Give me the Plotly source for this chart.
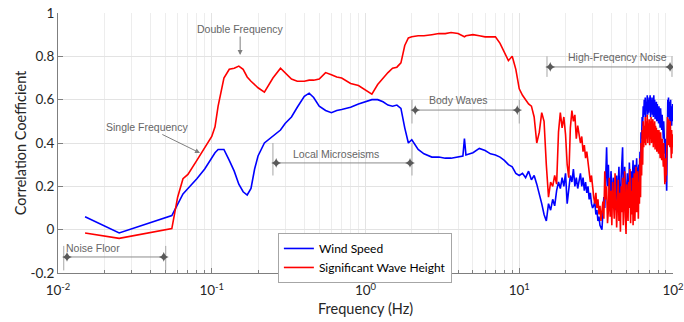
import math
import plotly.graph_objects as go

# ---------------- data ----------------
freq = [0.015, 0.025, 0.055, 0.06, 0.065, 0.07, 0.08, 0.09,
        0.1, 0.105, 0.11, 0.12, 0.13, 0.14, 0.15, 0.16, 0.17, 0.18, 0.19,
        0.2, 0.22, 0.25, 0.28, 0.3, 0.33, 0.36,
        0.4, 0.43, 0.46, 0.5, 0.55, 0.6, 0.65, 0.7, 0.8, 0.9,
        1.0, 1.1, 1.2, 1.3, 1.4, 1.5, 1.6, 1.7, 1.8, 1.9,
        2.0, 2.2, 2.4, 2.7, 3.0, 3.3, 3.6, 4.0, 4.3, 4.4, 4.5,
        5.0, 5.5, 6.0, 6.5, 7.0, 7.5, 8.0, 8.5, 9.0, 9.5, 10.0,
        10.5, 11, 11.5, 12, 12.5, 13, 13.5, 14, 14.5, 15, 15.5, 16, 16.5, 17, 17.5,
        18, 18.5, 19, 19.5, 20, 20.5, 21, 21.5, 22, 22.5, 23, 23.5, 24, 24.5, 25,
        25.5, 26, 26.5, 27, 27.5, 28, 28.5, 29, 29.5, 30,
        30.5, 31, 31.5, 32, 32.5, 33, 33.5, 34, 34.5, 35,
        35.5, 36, 36.5, 37, 37.5, 38, 38.5, 39, 39.5, 40,
        40.5, 41, 41.5, 42, 42.5, 43, 43.5, 44, 44.5, 45,
        45.5, 46, 46.5, 47, 47.5, 48, 48.5, 49, 49.5, 50,
        50.5, 51, 51.5, 52, 52.5, 53, 53.5, 54, 54.5, 55,
        55.5, 56, 56.5, 57, 57.5, 58, 58.5, 59, 59.5, 60,
        60.5, 61, 61.5, 62, 62.5, 63, 63.5, 64, 64.5, 65,
        65.5, 66, 66.5, 67, 67.5, 68, 68.5, 69, 69.5, 70,
        70.5, 71, 71.5, 72, 72.5, 73, 73.5, 74, 74.5, 75,
        75.5, 76, 76.5, 77, 77.5, 78, 78.5, 79, 79.5, 80,
        80.5, 81, 81.5, 82, 82.5, 83, 83.5, 84, 84.5, 85,
        85.5, 86, 86.5, 87, 87.5, 88, 88.5, 89, 89.5, 90,
        90.5, 91, 91.5, 92, 92.5, 93, 93.5, 94, 94.5, 95,
        95.5, 96, 96.5, 97, 97.5, 98, 98.5, 99, 99.5, 100]

wind_speed = [0.06, -0.015, 0.065, 0.12, 0.165, 0.19, 0.235, 0.28,
              0.33, 0.355, 0.37, 0.37, 0.32, 0.27, 0.21, 0.175, 0.16, 0.19, 0.28,
              0.34, 0.40, 0.43, 0.46, 0.49, 0.52, 0.565,
              0.615, 0.63, 0.61, 0.57, 0.55, 0.54, 0.55, 0.555, 0.565, 0.58,
              0.59, 0.60, 0.60, 0.59, 0.575, 0.57, 0.575, 0.56, 0.47, 0.40,
              0.415, 0.37, 0.35, 0.335, 0.335, 0.33, 0.33, 0.335, 0.34, 0.42, 0.345,
              0.355, 0.375, 0.365, 0.35, 0.345, 0.335, 0.32, 0.30, 0.29, 0.26, 0.25,
              0.26, 0.24, 0.27, 0.23, 0.25, 0.21, 0.17, 0.12, 0.07, 0.04, 0.12, 0.09, 0.14, 0.11, 0.18,
              0.22, 0.19, 0.24, 0.20, 0.26, 0.12, 0.18, 0.25, 0.22, 0.28, 0.20, 0.24, 0.19, 0.23, 0.26,
              0.20, 0.24, 0.18, 0.22, 0.17, 0.20, 0.14, 0.17, 0.12, 0.10,
              0.11, 0.13, 0.07, 0.09, 0.04, 0.06, 0.02, 0.01, 0.00, 0.08,
              0.15, 0.10, 0.22, 0.38, 0.20, 0.30, 0.16, 0.12, 0.27, 0.20,
              0.14, 0.24, 0.19, 0.09, 0.22, 0.25, 0.11, 0.20, 0.29, 0.15,
              0.10, 0.24, 0.30, 0.38, 0.16, 0.12, 0.29, 0.22, 0.07, 0.18,
              0.26, 0.13, 0.10, 0.31, 0.23, 0.15, 0.27, 0.09, 0.24, 0.32,
              0.07, 0.20, 0.30, 0.13, 0.26, 0.33, 0.18, 0.10, 0.28, 0.30,
              0.25, 0.36, 0.30, 0.45, 0.42, 0.52, 0.48, 0.57, 0.52, 0.60,
              0.53, 0.61, 0.52, 0.59, 0.55, 0.62, 0.53, 0.60, 0.54, 0.61,
              0.55, 0.62, 0.52, 0.59, 0.56, 0.61, 0.53, 0.60, 0.52, 0.62,
              0.54, 0.60, 0.51, 0.58, 0.53, 0.59, 0.50, 0.58, 0.52, 0.57,
              0.49, 0.57, 0.51, 0.55, 0.47, 0.56, 0.49, 0.54, 0.46, 0.53,
              0.45, 0.52, 0.42, 0.50, 0.40, 0.47, 0.35, 0.42, 0.30, 0.38,
              0.20, 0.18, 0.35, 0.55, 0.60, 0.53, 0.61, 0.52, 0.59, 0.50,
              0.58, 0.51, 0.60, 0.49, 0.57, 0.48, 0.55, 0.50, 0.58, 0.52]

wave_height = [-0.015, -0.04, 0.005, 0.15, 0.235, 0.255, 0.32, 0.38,
               0.43, 0.475, 0.57, 0.70, 0.74, 0.745, 0.755, 0.74, 0.705, 0.685, 0.67,
               0.655, 0.635, 0.70, 0.745, 0.725, 0.695, 0.685,
               0.685, 0.69, 0.69, 0.695, 0.725, 0.715, 0.705, 0.70, 0.675, 0.665,
               0.645, 0.625, 0.67, 0.70, 0.725, 0.745, 0.75, 0.77, 0.85, 0.885,
               0.89, 0.895, 0.895, 0.90, 0.905, 0.905, 0.91, 0.905, 0.895, 0.89, 0.895,
               0.90, 0.895, 0.89, 0.89, 0.89, 0.86, 0.82, 0.78, 0.80, 0.74, 0.65,
               0.62, 0.60, 0.58, 0.57, 0.52, 0.40, 0.45, 0.54, 0.50, 0.30, 0.15, 0.22, 0.20, 0.25, 0.21,
               0.45, 0.54, 0.47, 0.52, 0.44, 0.30, 0.24, 0.47, 0.55, 0.50, 0.53, 0.42, 0.48, 0.44, 0.40,
               0.43, 0.36, 0.39, 0.33, 0.36, 0.30, 0.26, 0.22, 0.25, 0.18,
               0.15, 0.12, 0.17, 0.10, 0.14, 0.07, 0.11, 0.04, 0.09, 0.13,
               0.05, 0.27, 0.14, 0.20, 0.03, 0.09, 0.24, 0.06, 0.18, 0.02,
               0.22, 0.10, 0.05, 0.26, 0.16, 0.01, 0.12, 0.23, 0.04, 0.17,
               -0.01, 0.20, 0.08, 0.24, 0.02, 0.13, 0.27, 0.06, -0.02, 0.21,
               0.15, 0.04, 0.22, 0.10, 0.28, 0.03, 0.18, 0.07, 0.24, 0.02,
               0.16, 0.26, 0.04, 0.19, 0.29, 0.08, 0.14, 0.27, 0.05, 0.22,
               0.12, 0.33, 0.15, 0.40, 0.25, 0.46, 0.30, 0.50, 0.38, 0.48,
               0.40, 0.52, 0.39, 0.50, 0.42, 0.53, 0.40, 0.49, 0.43, 0.51,
               0.39, 0.50, 0.42, 0.52, 0.40, 0.48, 0.44, 0.51, 0.38, 0.49,
               0.41, 0.50, 0.37, 0.48, 0.40, 0.47, 0.36, 0.46, 0.39, 0.45,
               0.35, 0.46, 0.38, 0.44, 0.33, 0.45, 0.36, 0.43, 0.32, 0.42,
               0.34, 0.41, 0.29, 0.40, 0.24, 0.36, 0.21, 0.33, 0.22, 0.30,
               0.25, 0.38, 0.45, 0.52, 0.41, 0.50, 0.39, 0.51, 0.40, 0.48,
               0.38, 0.50, 0.36, 0.47, 0.33, 0.46, 0.35, 0.44, 0.38, 0.42]

series_names = ["Wind Speed", "Significant Wave Height"]
series_colors = ["#0000ff", "#ff0000"]

x_tick_vals = [0.01, 0.1, 1, 10, 100]
x_tick_text = ["10<sup>-2</sup>", "10<sup>-1</sup>", "10<sup>0</sup>", "10<sup>1</sup>", "10<sup>2</sup>"]
y_tick_vals = [-0.2, 0, 0.2, 0.4, 0.6, 0.8, 1.0]
y_tick_text = ["-0.2", "0", "0.2", "0.4", "0.6", "0.8", "1"]

# band annotations: (label, tick-left Hz, tick-right Hz, line level, tick bottom, tick top, label Hz, label level)
bands = [
    ("Noise Floor", 0.0109, 0.0502, -0.126, -0.188, -0.075, 0.0168, -0.085),
    ("Local Microseisms", 0.250, 2.006, 0.308, 0.25, 0.40, 0.64, 0.349),
    ("Body Waves", 2.006, 10.0, 0.552, 0.49, 0.60, 4.05, 0.598),
    ("High-Freqency Noise", 15.15, 98.5, 0.751, 0.705, 0.80, 43.8, 0.797),
]
arrow_notes = [
    # (label, head Hz, head level, dx px, dy px)
    ("Double Frequency", 0.153, 0.806, 0, -26),
    ("Single Frequency", 0.0839, 0.354, -53, -26),
]

# ---------------- figure ----------------
fig = go.Figure()

for name, a, b, lvl, t0, t1, lx, ly in bands:
    for xv in (a, b):
        fig.add_trace(go.Scatter(x=[xv, xv], y=[t0, t1], mode="lines",
                                 line=dict(color="#a6a6a6", width=1),
                                 showlegend=False, hoverinfo="skip"))
    fig.add_trace(go.Scatter(x=[a * 1.05, b / 1.03], y=[lvl, lvl], mode="lines+markers",
                             line=dict(color="#8c8c8c", width=1),
                             marker=dict(symbol="star-diamond", size=7, color="#595959"),
                             showlegend=False, hoverinfo="skip"))
    fig.add_annotation(x=math.log10(lx), y=ly, text=name, showarrow=False,
                       font=dict(family="Liberation Sans, Arial", size=10.5, color="#666666"))

for name, hx, hy, dx, dy in arrow_notes:
    fig.add_annotation(x=math.log10(hx), y=hy, text=name, showarrow=True,
                       ax=dx, ay=dy, arrowhead=2, arrowsize=1, arrowwidth=1,
                       arrowcolor="#7f7f7f", standoff=0,
                       font=dict(family="Liberation Sans, Arial", size=10.5, color="#666666"))

for name, vals, col in zip(series_names, [wind_speed, wave_height], series_colors):
    fig.add_trace(go.Scatter(x=freq, y=vals, mode="lines", name=name,
                             line=dict(color=col, width=1.6)))

# x-axis title as a paper annotation (placed like the reference)
fig.add_annotation(xref="paper", yref="paper", x=0.5, y=-0.135, yanchor="middle",
                   text="Frequency (Hz)", showarrow=False,
                   font=dict(family="Lato, Calibri, sans-serif", size=14.5, color="#262626"))

minor_vals = [m * 10 ** e for e in range(-2, 2) for m in range(2, 10)]

fig.update_layout(
    width=684, height=322,
    margin=dict(l=58, r=11, t=13, b=49),
    paper_bgcolor="white", plot_bgcolor="white",
    font=dict(family="Lato, Calibri, sans-serif", color="#262626"),
    showlegend=True,
    legend=dict(x=0.499, y=0.154, xanchor="center", yanchor="top",
                bgcolor="white", bordercolor="#a6a6a6", borderwidth=1,
                font=dict(size=12, color="#000000"),
                itemwidth=30, tracegroupgap=0),
    xaxis=dict(type="log", range=[-2, 2], automargin=False,
               tickvals=x_tick_vals, ticktext=x_tick_text,
               ticks="inside", ticklen=5, tickcolor="#7f7f7f",
               showline=True, linecolor="#7f7f7f", linewidth=1,
               showgrid=True, gridcolor="#e3e3e3", gridwidth=1,
               minor=dict(tickvals=minor_vals, ticks="inside", ticklen=3,
                          tickcolor="#7f7f7f", showgrid=True, gridcolor="#ededed"),
               tickfont=dict(size=13.5, color="#262626"),
               zeroline=False, ticklabelstandoff=5),
    yaxis=dict(range=[-0.2, 1.0], automargin=False,
               tickvals=y_tick_vals, ticktext=y_tick_text,
               ticks="inside", ticklen=5, tickcolor="#7f7f7f",
               showline=True, linecolor="#7f7f7f", linewidth=1,
               showgrid=True, gridcolor="#e3e3e3",
               tickfont=dict(size=13.5, color="#262626"),
               title=dict(text="Correlation Coefficient", font=dict(size=14.5, color="#262626"), standoff=0),
               zeroline=False),
)

fig.write_html("out.html")
